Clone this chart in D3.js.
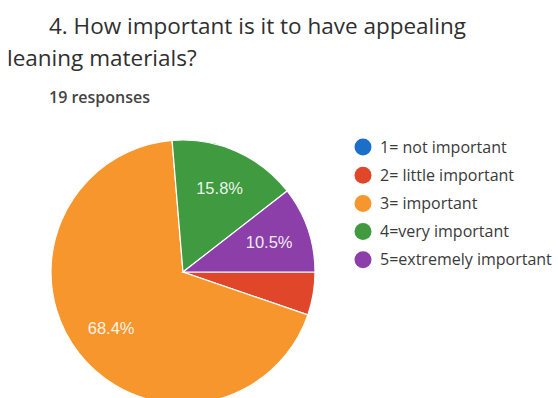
<!DOCTYPE html>
<html>
<head>
<meta charset="utf-8">
<script src="https://cdn.jsdelivr.net/npm/d3@7"></script>
<style>
  html, body { margin: 0; padding: 0; background: #fff; }
  svg { display: block; }
</style>
</head>
<body>
<svg id="chart" width="558" height="398"></svg>
<script>
// Survey answers: 19 responses
const categories = ["1= not important", "2= little important", "3= important", "4=very important", "5=extremely important"];
const counts = [0, 1, 13, 3, 2];
const colors = ["#1c6fc8", "#e0472a", "#f7962c", "#3f9a40", "#8c3fa8"];
const titleLines = ["4. How important is it to have appealing", "leaning materials?"];
const subtitle = "19 responses";

const svg = d3.select("#chart");
const total = d3.sum(counts);
const uiFont = "'Open Sans', Roboto, sans-serif";

// Title and subtitle
svg.append("text")
  .attr("x", 49).attr("y", 34)
  .attr("font-family", uiFont)
  .attr("font-size", 22.5)
  .attr("font-weight", 500)
  .attr("fill", "#2f2f2f")
  .text(titleLines[0]);
svg.append("text")
  .attr("x", 7).attr("y", 66)
  .attr("font-family", uiFont)
  .attr("font-size", 22.5)
  .attr("font-weight", 500)
  .attr("fill", "#2f2f2f")
  .text(titleLines[1]);
svg.append("text")
  .attr("x", 49).attr("y", 103)
  .attr("font-family", uiFont)
  .attr("font-size", 16)
  .attr("font-weight", 600)
  .attr("fill", "#444")
  .text(subtitle);

// Pie, starting at 3 o'clock and running clockwise
const cx = 183, cy = 272, r = 132;
const pie = d3.pie().sort(null).value(d => d)
  .startAngle(Math.PI / 2).endAngle(Math.PI / 2 + 2 * Math.PI);
const arcs = pie(counts);
const arc = d3.arc().innerRadius(0).outerRadius(r);
const labelArc = d3.arc().innerRadius(r * 0.69).outerRadius(r * 0.69);

const g = svg.append("g").attr("transform", `translate(${cx},${cy})`);
g.selectAll("path.slice")
  .data(arcs)
  .join("path")
  .attr("class", "slice")
  .attr("d", arc)
  .attr("fill", (d, i) => colors[i])
  .attr("stroke", "#fff")
  .attr("stroke-width", (d) => d.value > 0 ? 1.2 : 0);

// Percent labels on slices large enough to hold them
g.selectAll("text.pct")
  .data(arcs.filter(d => d.value / total > 0.08))
  .join("text")
  .attr("class", "pct")
  .attr("transform", d => `translate(${labelArc.centroid(d)})`)
  .attr("text-anchor", "middle")
  .attr("dy", "0.35em")
  .attr("font-family", "Arial, 'Liberation Sans', sans-serif")
  .attr("font-size", 16.5)
  .attr("fill", "#fff")
  .attr("fill-opacity", 0.92)
  .text(d => (d.value / total * 100).toFixed(1) + "%");

// Legend
const legend = svg.append("g").attr("transform", "translate(363,147)");
const rows = legend.selectAll("g.row")
  .data(categories)
  .join("g")
  .attr("class", "row")
  .attr("transform", (d, i) => `translate(0,${i * 28.2})`);
rows.append("circle")
  .attr("r", 8.5)
  .attr("fill", (d, i) => colors[i]);
rows.append("text")
  .attr("x", 17)
  .attr("dy", "0.35em")
  .attr("font-family", uiFont)
  .attr("font-size", 16)
  .attr("fill", "#3a3a3a")
  .text(d => d);
</script>
</body>
</html>
